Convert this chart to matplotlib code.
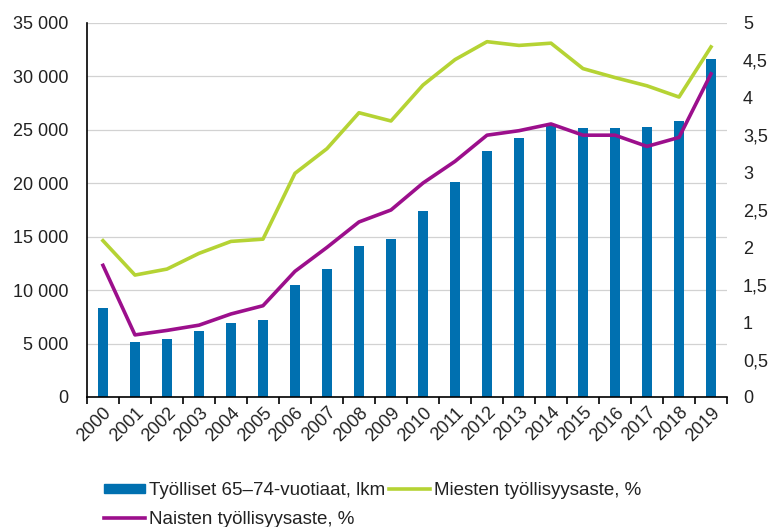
import matplotlib.pyplot as plt
from matplotlib.patches import Patch
from matplotlib.lines import Line2D
from matplotlib.ticker import FuncFormatter, MultipleLocator
import numpy as np

plt.rcParams['font.family'] = ['Liberation Sans', 'DejaVu Sans']

years = [str(y) for y in range(2000, 2020)]
employed = [8300, 5100, 5450, 6200, 6950, 7250, 10500, 12000, 14150, 14750,
            17450, 20150, 23000, 24200, 25500, 25150, 25150, 25300, 25850, 31600]
men_rate = [2.09, 1.63, 1.71, 1.92, 2.08, 2.11, 2.99, 3.32, 3.80, 3.69,
            4.17, 4.51, 4.75, 4.70, 4.73, 4.39, 4.27, 4.16, 4.01, 4.68]
women_rate = [1.76, 0.83, 0.89, 0.96, 1.11, 1.22, 1.68, 2.00, 2.34, 2.50,
              2.86, 3.15, 3.50, 3.56, 3.65, 3.50, 3.50, 3.35, 3.47, 4.32]

blue = '#0070b0'
green = '#b5d334'
purple = '#9c0f8c'
txt = '#222222'

fig = plt.figure(figsize=(7.73, 5.27), dpi=100)
ax = fig.add_axes([0.1125, 0.2467, 0.828, 0.7097])
x = np.arange(len(years))

ax.bar(x, employed, width=0.31, color=blue, zorder=2)
ax.set_xlim(-0.5, len(years) - 0.5)
ax.set_ylim(0, 35000)
ax.yaxis.set_major_locator(MultipleLocator(5000))
ax.yaxis.set_major_formatter(FuncFormatter(lambda v, p: f'{int(v):,}'.replace(',', ' ')))
ax.grid(axis='y', color='#d2d2d2', lw=0.9, zorder=0)
ax.set_axisbelow(True)

ax2 = ax.twinx()
ax2.plot(x, men_rate, color=green, lw=2.6, solid_joinstyle='round')
ax2.plot(x, women_rate, color=purple, lw=2.6, solid_joinstyle='round')
ax2.set_ylim(0, 5)
ax2.yaxis.set_major_locator(MultipleLocator(0.5))
ax2.yaxis.set_major_formatter(FuncFormatter(lambda v, p: f'{v:g}'.replace('.', ',')))

for a in (ax, ax2):
    a.spines['top'].set_visible(False)
    a.spines['right'].set_visible(False)
    a.tick_params(axis='y', length=0, labelsize=13, labelcolor=txt)
ax.tick_params(axis='y', pad=13.5)
ax2.tick_params(axis='y', pad=11.5)
ax2.spines['left'].set_visible(False)
ax2.spines['bottom'].set_visible(False)
ax.spines['left'].set_linewidth(1.2)
ax.spines['bottom'].set_linewidth(1.2)

ax.set_xticks(x)
ax.set_xticklabels(years, rotation=45, ha='right', rotation_mode='anchor',
                   fontsize=13, color=txt)
ax.tick_params(axis='x', which='major', length=0, pad=5)
ax.set_xticks(np.arange(-0.5, len(years)), minor=True)
ax.tick_params(axis='x', which='minor', length=5, width=1.2, direction='out')

handles = [Patch(color=blue),
           Line2D([], [], color=purple, lw=2.6),
           Line2D([], [], color=green, lw=2.6)]
labels = ['Työlliset 65–74-vuotiaat, lkm', 'Naisten työllisyysaste, %',
          'Miesten työllisyysaste, %']
fig.legend(handles, labels, ncol=2, loc='upper left', bbox_to_anchor=(0.122, 0.103),
           frameon=False, fontsize=13.5, handlelength=2.2, handleheight=0.4,
           handletextpad=0.2, columnspacing=0.2, labelspacing=0.62, borderpad=0,
           labelcolor=txt)

fig.savefig('out.png', dpi=100)
